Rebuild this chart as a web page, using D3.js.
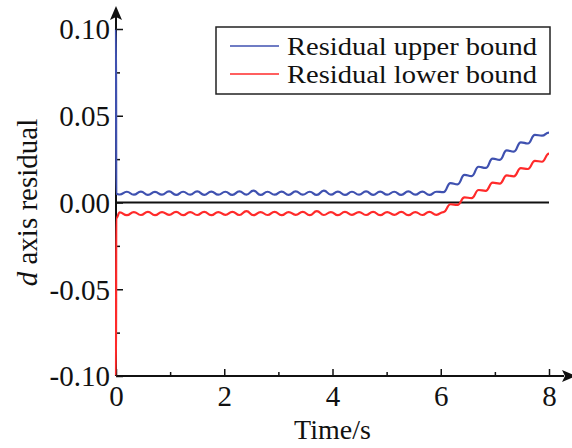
<!DOCTYPE html>
<html>
<head>
<meta charset="utf-8">
<script src="https://cdn.jsdelivr.net/npm/d3@7"></script>
<style>
  body { margin: 0; background: #fff; }
  text { font-family: "Liberation Serif", "Times New Roman", serif; fill: #111; }
</style>
</head>
<body>
<div id="chart"></div>
<script>
// sample times (s), read at the peaks / troughs of the ripple
const times = [0, 0.005, 0.07, 0.20, 0.33, 0.46, 0.59, 0.72, 0.85, 0.98, 1.11, 1.24,
  1.37, 1.50, 1.63, 1.76, 1.89, 2.02, 2.15, 2.28, 2.41, 2.54, 2.67, 2.80, 2.93,
  3.06, 3.19, 3.32, 3.45, 3.58, 3.71, 3.84, 3.97, 4.10, 4.23, 4.36, 4.49, 4.62,
  4.75, 4.88, 5.01, 5.14, 5.27, 5.40, 5.53, 5.66, 5.79, 5.92, 6.05, 6.18, 6.31,
  6.44, 6.57, 6.70, 6.83, 6.96, 7.09, 7.22, 7.35, 7.48, 7.61, 7.74, 7.87, 8.00]

const upperBound = [0.100, 0.0050, 0.0046, 0.0062, 0.0045, 0.0063, 0.0044, 0.0061, 0.0045, 0.0064, 0.0044, 0.0062,
  0.0045, 0.0064, 0.0044, 0.0063, 0.0045, 0.0062, 0.0044, 0.0064, 0.0045, 0.0069, 0.0044, 0.0062,
  0.0045, 0.0063, 0.0044, 0.0064, 0.0045, 0.0062, 0.0044, 0.0069, 0.0045, 0.0063, 0.0044, 0.0062,
  0.0045, 0.0064, 0.0044, 0.0063, 0.0045, 0.0062, 0.0044, 0.0064, 0.0045, 0.0063, 0.0044, 0.0062,
  0.0060, 0.0112, 0.0105, 0.0159, 0.0152, 0.0206, 0.0199, 0.0253, 0.0246, 0.0300, 0.0293, 0.0347,
  0.0340, 0.0390, 0.0385, 0.0403]

const lowerBound = [-0.100, -0.0090, -0.0057, -0.0073, -0.0055, -0.0072, -0.0054, -0.0073, -0.0055, -0.0071, -0.0054, -0.0073,
  -0.0055, -0.0072, -0.0054, -0.0073, -0.0055, -0.0071, -0.0054, -0.0072, -0.0050, -0.0073, -0.0055, -0.0072,
  -0.0054, -0.0073, -0.0055, -0.0071, -0.0054, -0.0073, -0.0050, -0.0072, -0.0055, -0.0073, -0.0054, -0.0071,
  -0.0055, -0.0072, -0.0054, -0.0073, -0.0055, -0.0071, -0.0054, -0.0073, -0.0055, -0.0072, -0.0054, -0.0071,
  -0.0055, -0.0010, -0.0014, 0.0030, 0.0025, 0.0072, 0.0067, 0.0114, 0.0109, 0.0156, 0.0151, 0.0198,
  0.0193, 0.0240, 0.0235, 0.0282]

const seriesNames = ["Residual upper bound", "Residual lower bound"]
const seriesColors = ["#3f51b0", "#ff2a2a"]
const xTicks = [0, 2, 4, 6, 8]
const xMinor = [1, 3, 5, 7]
const yTicks = [-0.10, -0.05, 0.00, 0.05, 0.10]
const yMinor = [-0.075, -0.025, 0.025, 0.075]

const W = 572, H = 448
const MARGIN = { TOP: 29, BOTTOM: 72, LEFT: 116, RIGHT: 23 }

const svg = d3.select("#chart").append("svg")
  .attr("width", W).attr("height", H)

const x = d3.scaleLinear().domain([0, 8]).range([MARGIN.LEFT, W - MARGIN.RIGHT])
const y = d3.scaleLinear().domain([-0.10, 0.10]).range([H - MARGIN.BOTTOM, MARGIN.TOP])

// plain hyphen for negatives, as in the original figure
const yFormat = d => d3.format(".2f")(d).replace("\u2212", "-")

// axes
const xAxisG = svg.append("g").attr("transform", `translate(0,${y(-0.10)})`)
xAxisG.call(d3.axisBottom(x).tickValues(xTicks).tickFormat(d3.format("d")).tickSize(-7).tickPadding(10))
xAxisG.append("g").call(d3.axisBottom(x).tickValues(xMinor).tickFormat("").tickSize(-4))
xAxisG.selectAll(".domain").remove()

const yAxisG = svg.append("g").attr("transform", `translate(${x(0)},0)`)
yAxisG.call(d3.axisLeft(y).tickValues(yTicks).tickFormat(yFormat).tickSize(-7).tickPadding(6))
yAxisG.append("g").call(d3.axisLeft(y).tickValues(yMinor).tickFormat("").tickSize(-4))
yAxisG.selectAll(".domain").remove()

svg.selectAll(".tick line").attr("stroke", "#111").attr("stroke-width", 1.5)
svg.selectAll(".tick text")
  .attr("font-size", "29px")
  .attr("font-family", "Liberation Serif")
  .attr("fill", "#111")
yAxisG.selectAll(".tick text").attr("dy", "0.34em")
xAxisG.selectAll(".tick text").attr("dy", "0.68em")

// axis lines with arrow heads
svg.append("line")
  .attr("x1", x(0)).attr("x2", W - 8)
  .attr("y1", y(-0.10)).attr("y2", y(-0.10))
  .attr("stroke", "#111").attr("stroke-width", 2)
svg.append("path")
  .attr("d", `M${W + 4},${y(-0.10)} L${W - 10},${y(-0.10) - 6} L${W - 7},${y(-0.10)} L${W - 10},${y(-0.10) + 6} Z`)
  .attr("fill", "#111")
svg.append("line")
  .attr("x1", x(0)).attr("x2", x(0))
  .attr("y1", y(-0.10)).attr("y2", 16)
  .attr("stroke", "#111").attr("stroke-width", 2)
svg.append("path")
  .attr("d", `M${x(0)},6 L${x(0) - 6},20 L${x(0)},17 L${x(0) + 6},20 Z`)
  .attr("fill", "#111")

// zero line
svg.append("line")
  .attr("x1", x(0)).attr("x2", x(8))
  .attr("y1", y(0)).attr("y2", y(0))
  .attr("stroke", "#111").attr("stroke-width", 2)

// series
const line = d3.line()
  .x((d, i) => x(times[i]))
  .y(d => y(d))
  .curve(d3.curveBumpX)

;[upperBound, lowerBound].forEach((s, i) => {
  svg.append("path")
    .attr("d", line(s))
    .attr("fill", "none")
    .attr("stroke", seriesColors[i])
    .attr("stroke-width", 2.2)
})

// legend
const legend = svg.append("g").attr("transform", "translate(216,27)")
legend.append("rect")
  .attr("width", 334).attr("height", 67)
  .attr("fill", "#fff").attr("stroke", "#222").attr("stroke-width", 1.5)
seriesNames.forEach((name, i) => {
  const row = legend.append("g").attr("transform", `translate(0,${19 + i * 28})`)
  row.append("line")
    .attr("x1", 14).attr("x2", 63)
    .attr("stroke", seriesColors[i]).attr("stroke-width", 1.5)
  row.append("text")
    .attr("x", 71).attr("dy", "0.33em")
    .attr("font-size", "26px")
    .attr("textLength", 250)
    .attr("lengthAdjust", "spacingAndGlyphs")
    .text(name)
})

// axis titles
svg.append("text")
  .attr("x", x(4)).attr("y", H - 9)
  .attr("text-anchor", "middle")
  .attr("font-size", "28px")
  .text("Time/s")

const yLabel = svg.append("text")
  .attr("transform", `translate(37,${y(0)}) rotate(-90)`)
  .attr("text-anchor", "middle")
  .attr("font-size", "29px")
yLabel.append("tspan").attr("font-style", "italic").text("d")
yLabel.append("tspan").text(" axis residual")
</script>
</body>
</html>
